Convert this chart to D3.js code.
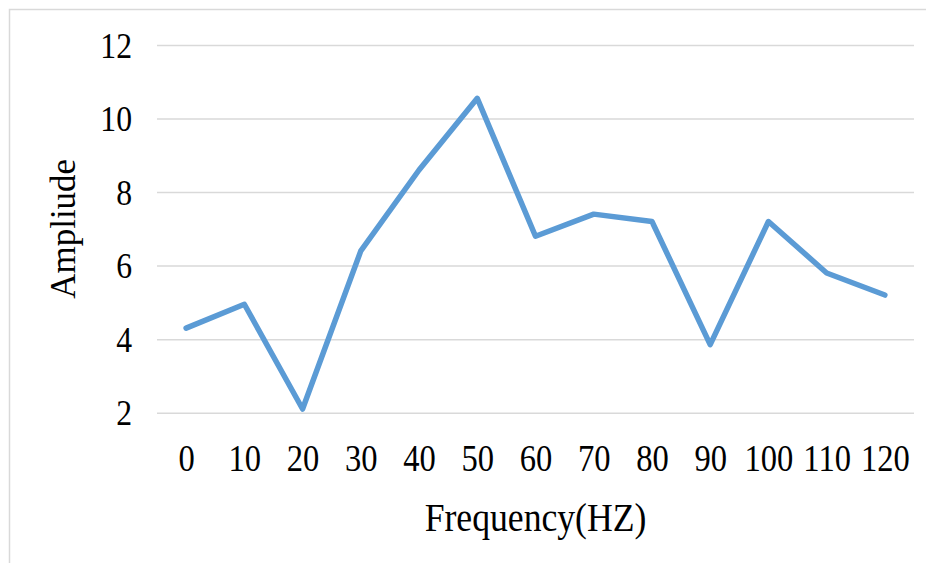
<!DOCTYPE html>
<html>
<head>
<meta charset="utf-8">
<script src="https://cdn.jsdelivr.net/npm/d3@7"></script>
<style>
  body { margin: 0; background: #fff; }
  text { font-family: "Liberation Serif", "Times New Roman", serif; fill: #000; }
</style>
</head>
<body>
<div id="chart"></div>
<script>
// chart values
var frequencies = ["0", "10", "20", "30", "40", "50", "60", "70", "80", "90", "100", "110", "120"];
var amplitudes = [4.3, 4.95, 2.1, 6.4, 8.6, 10.55, 6.8, 7.4, 7.2, 3.85, 7.2, 5.8, 5.2];
var yTicks = [2, 4, 6, 8, 10, 12];

var width = 926, height = 563;
var plot = { left: 157, right: 914, top: 45, bottom: 412.7 };
var squeeze = 0.88; // text in the picture is a bit narrow

var svg = d3.select("#chart").append("svg")
    .attr("width", width)
    .attr("height", height);

// light frame round the chart area
svg.append("rect")
    .attr("x", 9.5).attr("y", 9.5)
    .attr("width", width + 20).attr("height", height + 20)
    .attr("fill", "none")
    .attr("stroke", "#d9d9d9")
    .attr("stroke-width", 1.5);

var x = d3.scalePoint()
    .domain(frequencies)
    .range([plot.left, plot.right])
    .padding(0.5);

var y = d3.scaleLinear()
    .domain([2, 12])
    .range([plot.bottom, plot.top]);

// horizontal grid lines
var grid = svg.append("g")
    .attr("transform", "translate(" + plot.left + ",0)")
    .call(d3.axisLeft(y)
        .tickValues(yTicks)
        .tickSize(-(plot.right - plot.left))
        .tickFormat(""));
grid.select(".domain").remove();
grid.selectAll("line")
    .attr("stroke", "#d9d9d9")
    .attr("stroke-width", 1.5);

// y tick labels
var yAxis = svg.append("g")
    .attr("transform", "translate(" + plot.left + ",0)")
    .call(d3.axisLeft(y).tickValues(yTicks).tickSize(0).tickPadding(25));
yAxis.select(".domain").remove();
yAxis.selectAll("text")
    .attr("font-size", 36)
    .attr("x", -25 / squeeze)
    .attr("dy", "0.34em")
    .attr("transform", "scale(" + squeeze + ",1)");

// x tick labels
var xAxis = svg.append("g")
    .attr("transform", "translate(0," + plot.bottom + ")")
    .call(d3.axisBottom(x).tickSize(0).tickPadding(32));
xAxis.select(".domain").remove();
xAxis.selectAll("text")
    .attr("font-size", 37)
    .attr("transform", "scale(" + squeeze + ",1)");

// axis titles
svg.append("text")
    .attr("transform", "translate(" + (plot.left + plot.right) / 2 + ",531) scale(0.87,1)")
    .attr("text-anchor", "middle")
    .attr("font-size", 41)
    .text("Frequency(HZ)");

svg.append("text")
    .attr("transform", "translate(75," + (plot.top + plot.bottom) / 2 + ") rotate(-90)")
    .attr("text-anchor", "middle")
    .attr("font-size", 35)
    .text("Ampliude");

// the series
var line = d3.line()
    .x((d, i) => x(frequencies[i]))
    .y(d => y(d));

svg.append("path")
    .datum(amplitudes)
    .attr("fill", "none")
    .attr("stroke", "#5b9bd5")
    .attr("stroke-width", 5.5)
    .attr("stroke-linejoin", "round")
    .attr("stroke-linecap", "round")
    .attr("d", line);
</script>
</body>
</html>
